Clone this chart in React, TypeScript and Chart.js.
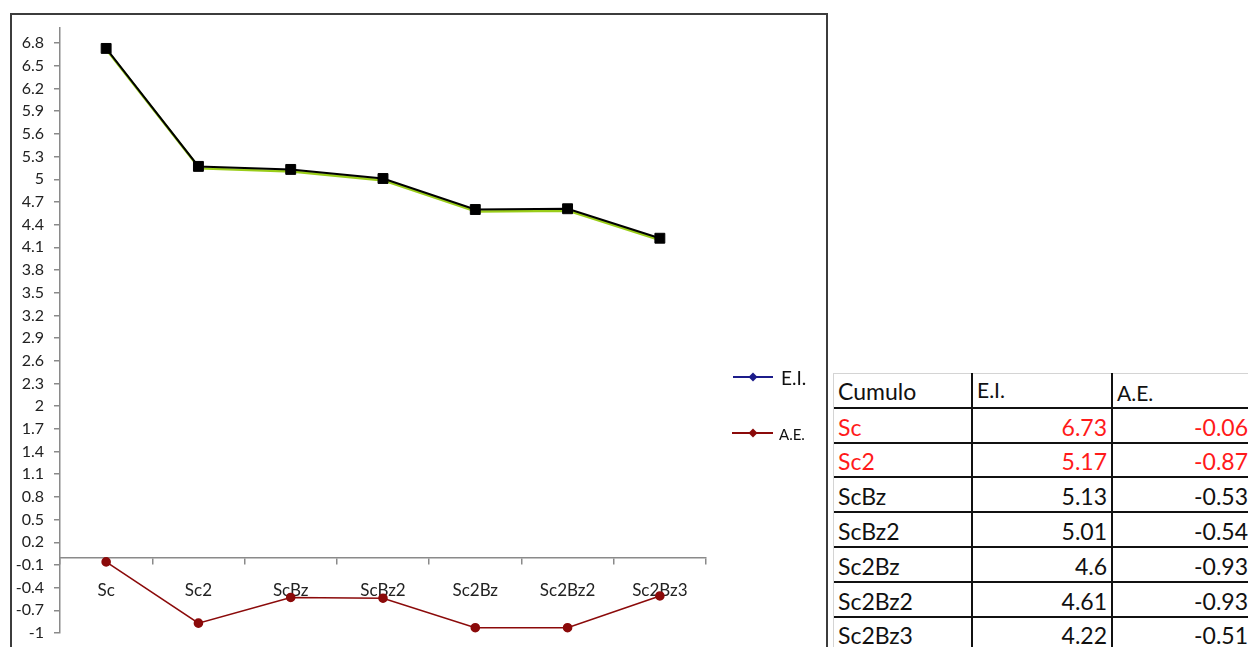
import React, { useEffect, useRef } from "react";
import { Chart, registerables } from "chart.js";

Chart.register(...registerables);

const CATEGORIES = ["Sc", "Sc2", "ScBz", "ScBz2", "Sc2Bz", "Sc2Bz2", "Sc2Bz3"];
const EI_VALUES = [6.73, 5.17, 5.13, 5.01, 4.6, 4.61, 4.22];
const AE_VALUES = [-0.06, -0.87, -0.53, -0.54, -0.93, -0.93, -0.51];
const Y_TICKS = [
  -1, -0.7, -0.4, -0.1, 0.2, 0.5, 0.8, 1.1, 1.4, 1.7, 2, 2.3, 2.6, 2.9, 3.2, 3.5,
  3.8, 4.1, 4.4, 4.7, 5, 5.3, 5.6, 5.9, 6.2, 6.5, 6.8,
];
const TABLE_HEADER = ["Cumulo", "E.I.", "A.E."];
const HIGHLIGHT_ROWS = ["Sc", "Sc2"];
const LEGEND_LABELS = ["E.I.", "A.E."];

const FONT = "Lato, 'Open Sans', sans-serif";
const EI_LEGEND_COLOR = "#1c1c8a";
const AE_COLOR = "#8b0a0a";

const CANVAS_W = 830;
const CANVAS_H = 667;

const shadowPlugin = {
  id: "greenShadow",
  beforeDatasetDraw(chart: any, args: any) {
    if (args.index === 1) {
      chart.ctx.save();
      chart.ctx.translate(1, 2);
    }
  },
  afterDatasetDraw(chart: any, args: any) {
    if (args.index === 1) chart.ctx.restore();
  },
};

function diamond(ctx: CanvasRenderingContext2D, x: number, y: number, r: number, color: string) {
  ctx.beginPath();
  ctx.moveTo(x, y - r);
  ctx.lineTo(x + r, y);
  ctx.lineTo(x, y + r);
  ctx.lineTo(x - r, y);
  ctx.closePath();
  ctx.fillStyle = color;
  ctx.fill();
}

const legendPlugin = {
  id: "excelLegend",
  afterDraw(chart: any) {
    const ctx: CanvasRenderingContext2D = chart.ctx;
    ctx.save();
    const items = [
      { label: LEGEND_LABELS[0], color: EI_LEGEND_COLOR, y: 377, x0: 733, tx: 781, size: 19 },
      { label: LEGEND_LABELS[1], color: AE_COLOR, y: 433, x0: 732, tx: 779, size: 15 },
    ];
    items.forEach((it) => {
      ctx.strokeStyle = it.color;
      ctx.lineWidth = 2;
      ctx.beginPath();
      ctx.moveTo(it.x0, it.y);
      ctx.lineTo(773, it.y);
      ctx.stroke();
      diamond(ctx, 753, it.y, 4.5, it.color);
      ctx.fillStyle = "#111";
      ctx.font = `${it.size}px ${FONT}`;
      ctx.textBaseline = "middle";
      ctx.textAlign = "left";
      ctx.fillText(it.label, it.tx, it.y + 2);
    });
    ctx.restore();
  },
};

function ChartBox() {
  const ref = useRef<HTMLCanvasElement | null>(null);
  useEffect(() => {
    if (!ref.current) return;
    const chart = new Chart(ref.current, {
      type: "line",
      data: {
        labels: CATEGORIES,
        datasets: [
          {
            label: "E.I.",
            data: EI_VALUES,
            borderColor: "#000",
            borderWidth: 2,
            pointStyle: "rect",
            pointRadius: 7,
            pointBackgroundColor: "#000",
            pointBorderColor: "#000",
            pointBorderWidth: 1,
            order: 2,
            clip: false as any,
          },
          {
            label: "shadow",
            data: EI_VALUES,
            borderColor: "#9acd1a",
            borderWidth: 2.5,
            pointRadius: 0,
            order: 3,
            clip: false as any,
          },
          {
            label: "A.E.",
            data: AE_VALUES,
            borderColor: AE_COLOR,
            borderWidth: 1.6,
            pointStyle: "circle",
            pointRadius: 4,
            pointBackgroundColor: AE_COLOR,
            pointBorderColor: AE_COLOR,
            order: 1,
            clip: false as any,
          },
        ],
      },
      options: {
        animation: false,
        responsive: false,
        layout: { padding: { top: 28, left: 0, right: 124, bottom: CANVAS_H - 633 } },
        plugins: { legend: { display: false }, tooltip: { enabled: false } },
        scales: {
          x: {
            type: "category",
            position: { y: 0 } as any,
            offset: true,
            border: { color: "#8a8a8a", width: 1.5 },
            grid: {
              offset: true,
              drawOnChartArea: false,
              drawTicks: true,
              tickLength: 6,
              color: "#8a8a8a",
              lineWidth: 1.5,
            },
            ticks: {
              padding: 17,
              color: "#222",
              font: { family: FONT, size: 17 },
              maxRotation: 0,
              autoSkip: false,
            },
          },
          y: {
            type: "linear",
            min: -1,
            max: 7,
            border: { color: "#8a8a8a", width: 1.5 },
            grid: {
              drawOnChartArea: false,
              drawTicks: true,
              tickLength: 6,
              color: "#8a8a8a",
              lineWidth: 1.5,
            },
            afterBuildTicks: (scale: any) => {
              scale.ticks = Y_TICKS.map((v) => ({ value: v }));
            },
            afterFit: (scale: any) => {
              scale.width = 60;
            },
            ticks: {
              padding: 10,
              color: "#222",
              font: { family: FONT, size: 16 },
              callback: (v: any) => String(Number(Number(v).toFixed(1))),
            },
          },
        },
      },
      plugins: [shadowPlugin, legendPlugin],
    });
    return () => chart.destroy();
  }, []);
  return (
    <canvas
      ref={ref}
      width={CANVAS_W}
      height={CANVAS_H}
      style={{ position: "absolute", left: 0, top: 0, width: CANVAS_W, height: CANVAS_H }}
    />
  );
}

const ROW_H = 34.8;
const TABLE_TOP = 373;
const COLS = [
  { left: 833, width: 139 },
  { left: 972, width: 140 },
  { left: 1112, width: 138 },
];

function DataTable() {
  const cells: React.ReactNode[] = [];
  TABLE_HEADER.forEach((h, c) => {
    cells.push(
      <div
        key={`h${c}`}
        style={{
          position: "absolute",
          left: COLS[c].left,
          width: COLS[c].width,
          top: TABLE_TOP,
          height: ROW_H,
          display: "flex",
          alignItems: c === 1 ? "flex-start" : "flex-end",
          boxSizing: "border-box",
          paddingLeft: 5,
          paddingTop: c === 1 ? 6 : 0,
          paddingBottom: 5,
          fontSize: c === 0 ? 23 : 21,
          lineHeight: 1,
          color: "#111",
        }}
      >
        {h}
      </div>
    );
  });
  CATEGORIES.forEach((cat, r) => {
    const red = HIGHLIGHT_ROWS.includes(cat);
    const vals = [cat, String(EI_VALUES[r]), String(AE_VALUES[r])];
    vals.forEach((v, c) => {
      cells.push(
        <div
          key={`r${r}c${c}`}
          style={{
            position: "absolute",
            left: COLS[c].left,
            width: COLS[c].width,
            top: TABLE_TOP + ROW_H * (r + 1),
            height: ROW_H,
            display: "flex",
            alignItems: "flex-end",
            justifyContent: c === 0 ? "flex-start" : "flex-end",
            boxSizing: "border-box",
            paddingLeft: 5,
            paddingRight: c === 2 ? 2 : 5,
            paddingBottom: 4,
            fontSize: 23,
            lineHeight: 1,
            color: red ? "#ff1a1a" : "#111",
          }}
        >
          {v}
        </div>
      );
    });
  });
  const lines: React.ReactNode[] = [];
  lines.push(
    <div key="gt" style={{ position: "absolute", left: 833, top: TABLE_TOP, width: 415, height: 1, background: "#d4d4d4" }} />
  );
  lines.push(
    <div key="gl" style={{ position: "absolute", left: 833, top: TABLE_TOP, width: 1, height: 300, background: "#d4d4d4" }} />
  );
  for (let k = 1; k <= 8; k++) {
    lines.push(
      <div
        key={`hl${k}`}
        style={{
          position: "absolute",
          left: 834,
          top: Math.round(TABLE_TOP + ROW_H * k - 1),
          width: 414,
          height: 2,
          background: "#111",
        }}
      />
    );
  }
  [971, 1111].forEach((x) =>
    lines.push(
      <div key={`v${x}`} style={{ position: "absolute", left: x, top: TABLE_TOP, width: 2, height: 300, background: "#111" }} />
    )
  );
  return (
    <div style={{ fontFamily: FONT }}>
      {lines}
      {cells}
    </div>
  );
}

export default function App() {
  return (
    <div
      style={{
        position: "fixed",
        left: 0,
        top: 0,
        width: 1248,
        height: 647,
        overflow: "hidden",
        background: "#fff",
      }}
    >
      <div
        style={{
          position: "absolute",
          left: 10,
          top: 13,
          width: 818,
          height: 700,
          border: "2px solid #3c3c3c",
          boxSizing: "border-box",
        }}
      />
      <ChartBox />
      <DataTable />
    </div>
  );
}
